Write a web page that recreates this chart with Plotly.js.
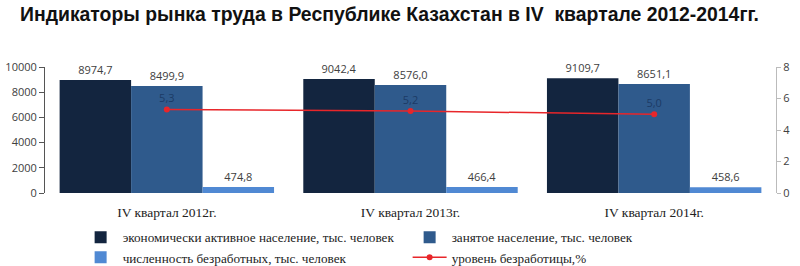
<!DOCTYPE html>
<html>
<head>
<meta charset="utf-8">
<script src="https://cdn.plot.ly/plotly-3.0.1.min.js"></script>
<style>html,body{margin:0;padding:0;background:#fff;}#chart{width:800px;height:266px;}</style>
</head>
<body>
<div id="chart"></div>
<script>
const categories = ['IV квартал 2012г.', 'IV квартал 2013г.', 'IV квартал 2014г.'];
const activePop = [8974.7, 9042.4, 9109.7];
const employedPop = [8499.9, 8576.0, 8651.1];
const unemployedPop = [474.8, 466.4, 458.6];
const unemploymentRate = [5.3, 5.2, 5.0];
const seriesNames = [
  'экономически активное население, тыс. человек',
  'занятое население, тыс. человек',
  'численность безработных, тыс. человек',
  'уровень безработицы,%'
];
const leftTickVals = [0, 2000, 4000, 6000, 8000, 10000];
const leftTickText = ['0', '2000', '4000', '6000', '8000', '10000'];

const labelFont = {family: 'Open Sans, Liberation Sans, sans-serif', size: 11, color: '#404040'};

const barCommon = {
  type: 'bar',
  x: categories,
  texttemplate: '%{y:.1f}',
  textposition: 'outside',
  cliponaxis: false,
  textfont: labelFont,
  hoverinfo: 'skip'
};

const traces = [
  Object.assign({}, barCommon, {y: activePop, name: seriesNames[0], marker: {color: '#13253f'}}),
  Object.assign({}, barCommon, {y: employedPop, name: seriesNames[1], marker: {color: '#2f5a8c'}}),
  Object.assign({}, barCommon, {y: unemployedPop, name: seriesNames[2], marker: {color: '#5089d3'}}),
  {
    type: 'scatter', mode: 'lines+markers+text',
    x: categories, y: unemploymentRate, yaxis: 'y2',
    name: seriesNames[3],
    line: {color: '#e8262a', width: 1.5},
    marker: {color: '#e8262a', size: 6, symbol: 'circle'},
    texttemplate: '%{y:.1f}',
    textposition: 'top center',
    textfont: {family: 'Open Sans, Liberation Sans, sans-serif', size: 11, color: '#1c3a66'},
    cliponaxis: false,
    hoverinfo: 'skip'
  }
];

const layout = {
  width: 800, height: 266,
  separators: ', ',
  paper_bgcolor: '#ffffff', plot_bgcolor: '#ffffff',
  margin: {l: 45, r: 24, t: 67, b: 73, autoexpand: false},
  title: {
    text: 'Индикаторы рынка труда в Республике Казахстан в IV  квартале 2012-2014гг.',
    font: {family: 'Liberation Sans, Arial, sans-serif', size: 19.4, color: '#111', weight: 'bold'},
    x: 0.025, xanchor: 'left', xref: 'container',
    y: 0.947, yanchor: 'middle', yref: 'container'
  },
  barmode: 'group',
  bargap: 0.12,
  bargroupgap: 0,
  showlegend: true,
  legend: {
    orientation: 'h',
    x: 0.046, xanchor: 'left',
    y: 0.165, yanchor: 'top', yref: 'container',
    entrywidth: 280, entrywidthmode: 'pixels',
    traceorder: 'normal',
    font: {family: 'Liberation Serif, Times New Roman, serif', size: 13.2, color: '#222'},
    itemwidth: 34,
    tracegroupgap: 0,
    bgcolor: 'rgba(0,0,0,0)'
  },
  xaxis: {
    type: 'category',
    showgrid: false, zeroline: false, showline: false, ticks: '',
    tickfont: {family: 'Liberation Serif, Times New Roman, serif', size: 13.5, color: '#222'},
    ticklabelstandoff: 9
  },
  yaxis: {
    range: [0, 10000],
    tickvals: leftTickVals, ticktext: leftTickText,
    showgrid: false, zeroline: false,
    showline: true, linecolor: '#555', linewidth: 1,
    ticks: 'outside', ticklen: 5, tickcolor: '#555',
    tickfont: labelFont
  },
  yaxis2: {
    overlaying: 'y', side: 'right',
    range: [0, 8], dtick: 2,
    showgrid: false, zeroline: false,
    showline: true, linecolor: '#bbbbbb', linewidth: 1,
    ticks: 'outside', ticklen: 4, tickcolor: '#bbbbbb',
    tickfont: labelFont
  }
};

Plotly.newPlot('chart', traces, layout, {displayModeBar: false, staticPlot: true});
</script>
</body>
</html>
